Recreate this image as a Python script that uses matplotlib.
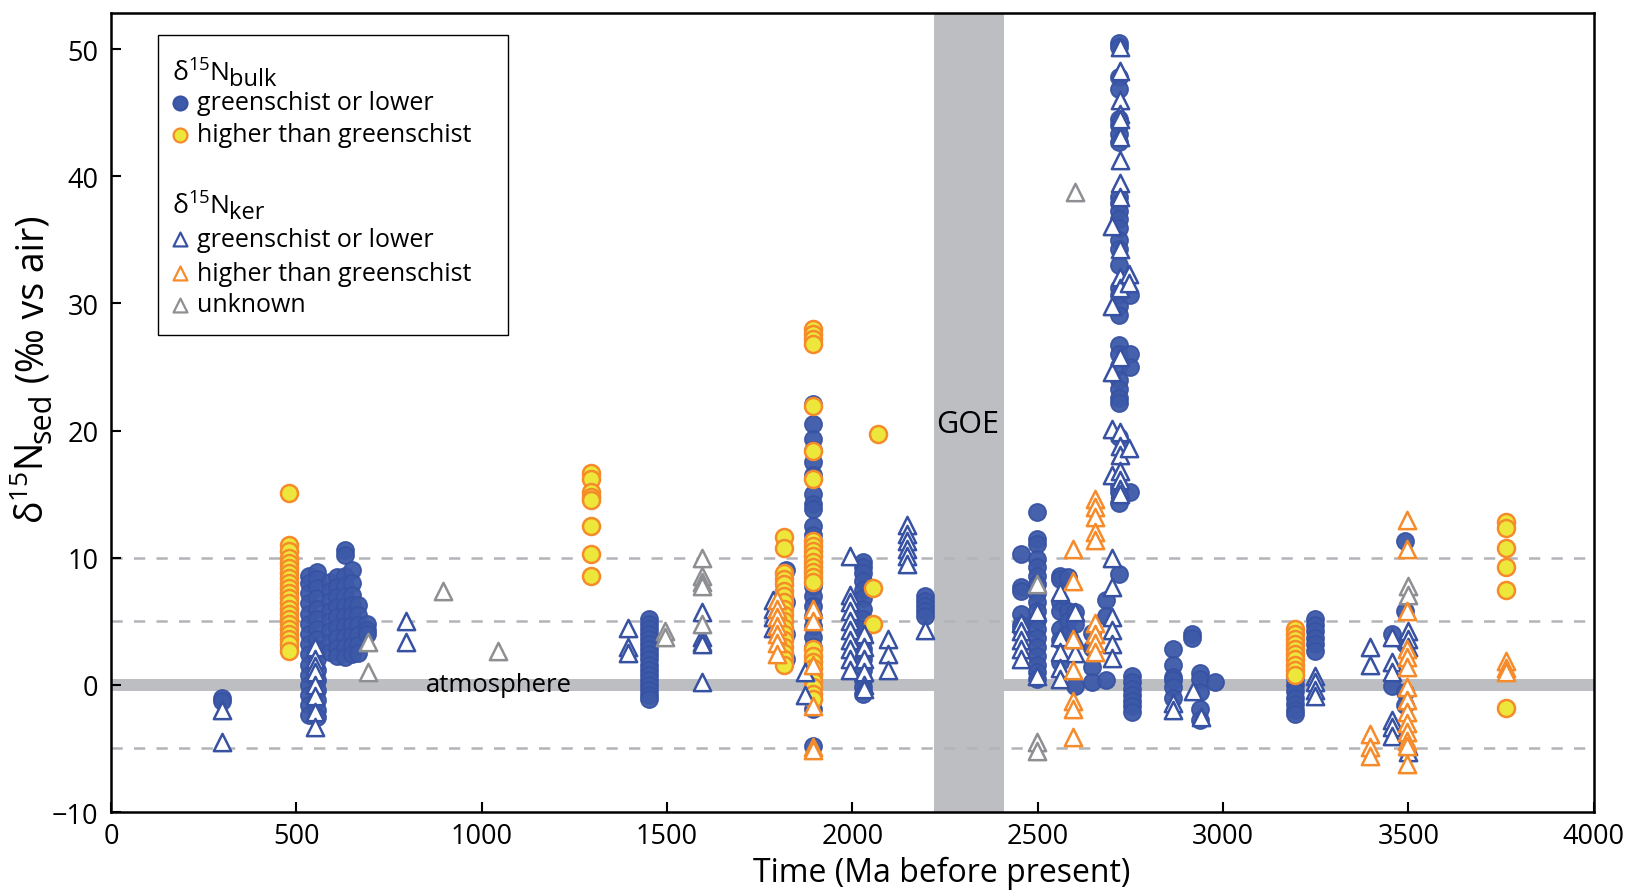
import matplotlib.pyplot as plt
from matplotlib.patches import Rectangle

plt.rcParams['font.family'] = ['Open Sans', 'DejaVu Sans']
plt.rcParams['mathtext.fontset'] = 'custom'
plt.rcParams['mathtext.rm'] = 'Open Sans'
plt.rcParams['mathtext.it'] = 'Open Sans'

# d15N bulk, greenschist or lower (age Ma, values)
bulk_low = [
    (300, [-1.0, -1.3]),
    (480, [5.5, 4.0, 3.0]),
    (535, [8.6, 8.0, 7.2, 6.4, 5.6, 4.8, 4.0, 3.2, 2.4, 1.6, 0.8, 0.0, -0.8, -1.6, -2.4]),
    (555, [8.9, 8.3, 7.6, 6.8, 6.0, 5.2, 4.4, 3.6, 2.8, 2.0, 1.2, 0.4, -0.4, -1.2, -2.0, -2.5]),
    (590, [8.1, 7.4, 6.6, 5.8, 5.0, 4.2, 3.4, 2.6]),
    (610, [8.5, 7.7, 6.9, 6.1, 5.3, 4.5, 3.7, 2.9, 2.3]),
    (630, [10.6, 10.2, 8.6, 7.8, 7.0, 6.2, 5.4, 4.6, 3.8, 3.0, 2.2]),
    (650, [9.0, 8.0, 7.1, 6.3, 5.5, 4.7, 3.9, 3.1, 2.4]),
    (665, [6.3, 5.5, 4.7, 3.9, 3.1, 2.5]),
    (690, [4.8, 4.3, 4.0]),
    (1450, [5.2, 4.8, 4.4, 4.0, 3.6, 3.2, 2.8, 2.4, 2.0, 1.6, 1.2, 0.8, 0.4, 0.0, -0.4, -0.8, -1.1]),
    (1820, [9.0, 6.5, 4.0, 2.0]),
    (1893, [22.1, 20.5, 19.3, 18.5, 17.5, 16.5, 15.0, 14.2, 13.8, 12.5, 11.8, 11.0, 10.2, 9.4, 8.6,
            7.8, 7.0, 6.2, 5.4, 4.6, 3.8, 3.0, 2.2, 1.4, 0.6, -0.2, -1.0, -1.9, -4.8]),
    (2028, [9.7, 9.3, 8.8, 8.2, 7.5, 6.8, 6.0, 5.2, 4.4, 3.6, 2.8, 2.0, 1.2, 0.4, -0.2, -0.7]),
    (2195, [7.0, 6.6, 6.2, 5.8, 5.4]),
    (2456, [10.3, 7.7, 7.4, 5.6, 4.7, 4.4]),
    (2498, [13.6, 11.5, 11.1, 9.9, 9.3, 8.6, 7.9, 7.2, 6.5, 5.8, 5.1, 4.4, 3.7, 3.0, 2.3, 1.6, 1.0, 0.45]),
    (2559, [8.6, 8.3, 6.5, 5.8, 4.4, 3.5, 1.8]),
    (2582, [8.5, 5.8, 5.0, 4.0]),
    (2600, [5.7, 4.8, -0.1]),
    (2645, [4.1, 2.9, 1.4, 0.2]),
    (2685, [6.7, 5.4, 0.4]),
    (2718, [50.5, 50.2, 47.8, 46.9, 44.5, 44.0, 43.3, 42.7, 38.4, 37.9, 37.3, 36.6, 35.9, 35.0, 34.3,
            33.0, 31.2, 30.7, 29.8, 29.1, 26.7, 26.0, 25.1, 24.0, 23.3, 22.6, 22.2, 19.5, 15.6,
            15.2, 14.3, 8.7]),
    (2748, [30.7, 26.0, 25.0, 15.2]),
    (2755, [0.7, 0.2, -0.3, -0.8, -1.3, -1.7, -2.1]),
    (2865, [2.8, 1.6, 0.6, 0.4, -0.2, -1.0]),
    (2915, [4.0, 3.7]),
    (2937, [0.9, 0.45, -0.6, -1.9, -2.8]),
    (2977, [0.2]),
    (3193, [1.0, 0.5, 0.0, -0.5, -1.0, -1.5, -2.0, -2.3]),
    (3247, [5.2, 4.7, 4.2, 3.7, 3.2, 2.7]),
    (3455, [4.0, -0.1]),
    (3490, [11.3, 5.8, 3.2, -0.6, -1.6]),
]

# d15N bulk, higher than greenschist
bulk_high = [
    (480, [15.1, 11.0, 10.5, 10.0, 9.6, 9.2, 8.8, 8.4, 8.0, 7.6, 7.2, 6.8, 6.4, 6.0, 5.6, 5.2,
           4.8, 4.4, 4.0, 3.6, 3.2, 2.7]),
    (1295, [16.7, 16.2, 15.2, 14.8, 14.5, 12.5, 10.3, 8.6]),
    (1815, [11.6, 10.8, 8.8, 8.3, 7.9, 7.4, 7.0, 6.5, 6.0, 5.5, 5.0, 4.5, 4.0, 3.5, 3.0, 2.5, 2.0, 1.6]),
    (1893, [28.0, 27.6, 27.2, 26.8, 21.9, 18.4, 16.2, 11.3, 10.9, 10.5, 10.1, 9.7, 9.3, 8.9, 8.5,
            8.1, 2.8, 2.3, 1.8, 1.3, 0.8, 0.3, -0.2, -0.7, -1.1]),
    (2055, [7.6, 4.8]),
    (2069, [19.7]),
    (3193, [4.4, 4.0, 3.6, 3.2, 2.8, 2.4, 2.0, 1.6, 1.2, 0.8]),
    (3762, [12.8, 12.3, 10.8, 9.3, 7.5, -1.8]),
]

# d15N kerogen, greenschist or lower
ker_low = [
    (300, [-2.0, -4.5]),
    (550, [3.0, 2.0, 1.5, 1.0, 0.0, -0.9, -2.1, -3.3]),
    (796, [5.0, 3.4]),
    (1394, [4.5, 3.0, 2.5]),
    (1594, [5.7, 3.8, 3.4, 3.2, 0.2]),
    (1786, [6.7, 6.0, 5.3, 4.5]),
    (1872, [1.0, -0.8]),
    (1993, [10.1, 7.1, 6.5, 5.8, 5.0, 4.3, 3.5, 2.8, 2.0, 1.2]),
    (2030, [4.0, 3.0, 2.0, 1.0, 0.0, -0.3]),
    (2096, [3.6, 2.4, 1.2]),
    (2147, [12.6, 11.9, 11.3, 10.7, 10.1, 9.5]),
    (2195, [4.3]),
    (2456, [4.9, 4.2, 3.5, 2.8, 2.0]),
    (2498, [5.7, 0.7]),
    (2559, [7.3, 3.8, 2.6, 1.3, 0.45]),
    (2600, [5.7, 3.6, 2.5]),
    (2700, [36.1, 29.8, 24.6, 20.1, 16.5, 10.0, 7.7, 5.3, 4.3, 3.2, 2.1]),
    (2721, [50.2, 48.3, 46.0, 44.9, 44.5, 43.1, 41.3, 39.5, 38.4, 34.3, 32.1, 31.2, 25.8, 19.9,
            18.8, 18.1, 16.8, 16.1, 15.4, 15.0]),
    (2745, [32.3, 31.6, 18.6]),
    (2865, [-1.4, -2.0]),
    (2920, [-0.5]),
    (2940, [-2.5]),
    (3247, [0.7, 0.2, -0.4, -0.9]),
    (3395, [3.0, 1.6]),
    (3455, [3.8, 1.8, 1.0, -2.8, -3.3, -4.0]),
    (3500, [4.2, 3.6, 3.0, -4.8, -5.3]),
]

# d15N kerogen, higher than greenschist
ker_high = [
    (1796, [6.7, 6.0, 5.3, 4.6, 4.0, 3.3, 2.4]),
    (1893, [6.0, 5.0, 1.6, -1.7, -4.9, -5.1]),
    (2595, [10.7, 8.2, 3.6, 1.2, -1.3, -1.9, -4.1]),
    (2654, [14.6, 14.0, 13.2, 12.0, 11.4, 4.9, 4.0, 3.3, 2.6]),
    (3395, [-3.9, -4.9, -5.6]),
    (3496, [13.0, 10.7, 5.8, 2.8, 2.2, 1.4, -0.2, -1.2, -2.1, -3.0, -3.7, -4.4, -4.8, -6.2]),
    (3762, [1.9, 1.3, 1.0]),
]

# d15N kerogen, unknown grade
ker_unknown = [
    (693, [3.4, 1.0]),
    (896, [7.4]),
    (1045, [2.7]),
    (1494, [4.2, 3.8]),
    (1594, [10.0, 8.6, 8.1, 7.8, 4.8]),
    (2498, [7.9, -4.5, -5.2]),
    (2600, [38.8]),
    (3500, [7.8, 7.1]),
]

ref_lines = [10, 5, -5]
goe_span = (2220, 2410)
x_ticks = list(range(0, 4001, 500))
y_ticks = list(range(-10, 51, 10))


def expand(groups):
    xs, ys = [], []
    for age, vals in groups:
        for v in vals:
            xs.append(age)
            ys.append(v)
    return xs, ys


BLUE = '#3d5aa8'
BLUE_EDGE = '#3752a3'
ORANGE = '#f58b2b'
YELLOW = '#ece73a'
GRAY = '#8e8f93'
BAND = '#bdbec2'

fig = plt.figure(figsize=(16.28, 8.95), dpi=100)
ax = fig.add_axes([0.0682, 0.0916, 0.9108, 0.8922])

ax.axvspan(*goe_span, color=BAND, zorder=0, lw=0)
ax.axhspan(-0.45, 0.45, color=BAND, zorder=0, lw=0)
for y in ref_lines:
    ax.axhline(y, color='#b3b4b8', lw=1.8, ls=(0, (4.5, 4.5)), zorder=0.5)

s_pt = 150
x, y = expand(bulk_low)
ax.scatter(x, y, s=s_pt, marker='o', facecolor=BLUE, edgecolor=BLUE_EDGE, lw=1.3, alpha=0.95, zorder=2)
x, y = expand(bulk_high)
ax.scatter(x, y, s=s_pt, marker='o', facecolor=YELLOW, edgecolor=ORANGE, lw=1.8, zorder=3)
x, y = expand(ker_low)
ax.scatter(x, y, s=155, marker='^', facecolor='white', edgecolor=BLUE_EDGE, lw=1.8, zorder=4)
x, y = expand(ker_unknown)
ax.scatter(x, y, s=155, marker='^', facecolor='white', edgecolor=GRAY, lw=1.8, zorder=4)
x, y = expand(ker_high)
ax.scatter(x, y, s=155, marker='^', facecolor='white', edgecolor=ORANGE, lw=1.8, zorder=5)

ax.text(1045, 0, 'atmosphere', fontsize=18.5, ha='center', va='center', zorder=6)
ax.text(2310, 20.5, 'GOE', fontsize=22, ha='center', va='center', zorder=6)

ax.set_xlim(0, 4000)
ax.set_ylim(-10, 52.8)
ax.set_xticks(x_ticks)
ax.set_yticks(y_ticks)
ax.tick_params(direction='in', length=7, width=1.5, labelsize=19.5)
ax.tick_params(axis='y', pad=9)
ax.tick_params(axis='x', pad=7)
for sp in ax.spines.values():
    sp.set_linewidth(1.8)

ax.set_xlabel('Time (Ma before present)', fontsize=23)
ax.xaxis.set_label_coords(0.56, -0.055)

fig.canvas.draw()
rend = fig.canvas.get_renderer()
inv = ax.transAxes.inverted()

# y-axis label built from pieces so the subscript stays large
y_pos = 0.362
for piece, size, shift in [('δ$^{15}$N', 27, 0.0), ('sed', 22, 0.0045), (' (‰ vs air)', 27, 0.0)]:
    t = ax.text(-0.0455 + shift, y_pos, piece, transform=ax.transAxes, fontsize=size,
                rotation=90, rotation_mode='anchor', ha='left', va='baseline', clip_on=False)
    bb = t.get_window_extent(renderer=rend)
    y_pos = inv.transform((bb.x0, bb.y1))[1]

# legend drawn in axes coordinates
ax.add_patch(Rectangle((0.0317, 0.597), 0.236, 0.376, transform=ax.transAxes,
                       facecolor='white', edgecolor='black', lw=1.0, zorder=7))
for yb, sub in [(0.916, 'bulk'), (0.749, 'ker')]:
    head = ax.text(0.041, yb, 'δ$^{15}$N', transform=ax.transAxes,
                   fontsize=19, va='baseline', zorder=8)
    bb = head.get_window_extent(renderer=rend)
    x_end = inv.transform((bb.x1, bb.y0))[0]
    ax.text(x_end, yb - 0.005, sub, transform=ax.transAxes,
            fontsize=17, va='baseline', zorder=8)

entries = [
    (0.888, 'o', BLUE, BLUE_EDGE, 'greenschist or lower'),
    (0.848, 'o', YELLOW, ORANGE, 'higher than greenschist'),
    (0.7176, '^', 'white', BLUE_EDGE, 'greenschist or lower'),
    (0.675, '^', 'white', ORANGE, 'higher than greenschist'),
    (0.635, '^', 'white', GRAY, 'unknown'),
]
for yy, m, fc, ec, lab in entries:
    ax.scatter([0.0465], [yy], s=100, marker=m, facecolor=fc, edgecolor=ec, lw=1.6,
               transform=ax.transAxes, zorder=8, clip_on=False)
    ax.text(0.058, yy, lab, transform=ax.transAxes, fontsize=18, va='center', zorder=8)

fig.savefig('out.png', dpi=100)
